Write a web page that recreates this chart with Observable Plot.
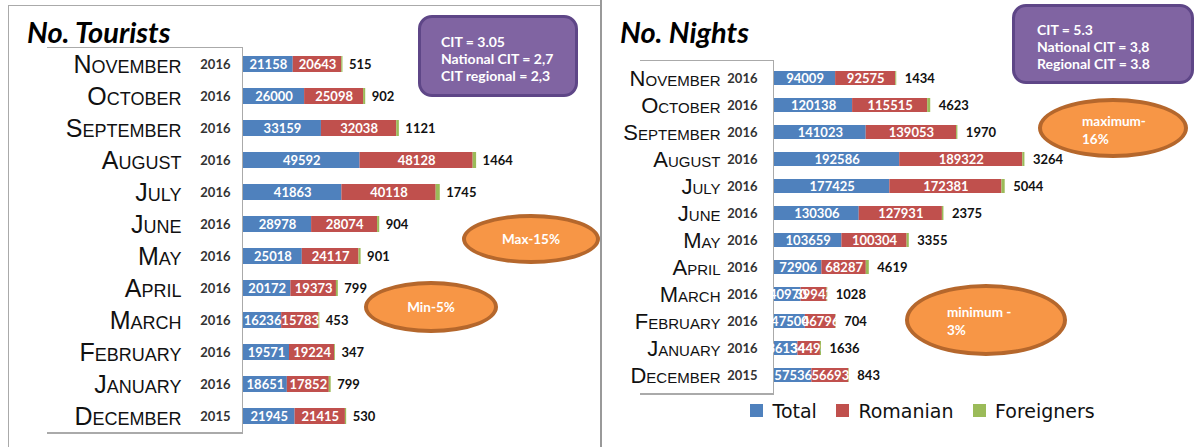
<!DOCTYPE html>
<html><head><meta charset="utf-8">
<script src="https://cdn.jsdelivr.net/npm/d3@7"></script>
<script src="https://cdn.jsdelivr.net/npm/@observablehq/plot@0.6"></script>
<style>
body{margin:0;background:#fff;}
#wrap{position:relative;width:1194px;height:447px;overflow:hidden;background:#fff;}
.abs{position:absolute;}
.panel{position:absolute;top:0;}
.title{position:absolute;font:italic 700 29px Lato,sans-serif;color:#000;white-space:nowrap;}
.box{position:absolute;background:#8064a2;border:3px solid #5e4687;border-radius:14px;color:#fff;font:700 14px Lato,sans-serif;box-sizing:border-box;line-height:17px;white-space:nowrap;}
.ell{position:absolute;background:#f79646;border:4px solid #b5672c;border-radius:50%;box-sizing:border-box;color:#fff;font:700 13.5px Lato,sans-serif;white-space:nowrap;}
.lblbox{position:absolute;border-top:1px solid #aaa;border-right:1px solid #aaa;border-bottom:2px solid #aaa;background:#fff;}
#legend{position:absolute;left:750px;top:394px;}
</style></head><body>
<div id="wrap">
  <div class="abs" style="left:8px;top:5px;width:0;height:442px;border-left:1px solid #aaa"></div>
  <div class="abs" style="left:8px;top:5px;width:593px;height:0;border-top:1px solid #aaa"></div>
  <div class="abs" style="left:600px;top:0;width:0;height:447px;border-left:2px solid #999"></div>
  <div class="lblbox" style="left:47px;top:47px;width:195px;height:384px"></div>
  <div class="lblbox" style="left:640px;top:60px;width:133px;height:332px"></div>
  <div id="left" class="panel" style="left:0"></div>
  <div id="right" class="panel" style="left:601px"></div>
  <div class="title" style="left:27px;top:14px">No. Tourists</div>
  <div class="title" style="left:620px;top:14px">No. Nights</div>
  <div class="box" style="left:418px;top:15px;width:160px;height:82px;padding:15px 0 0 20px">CIT = 3.05<br>National CIT = 2,7<br>CIT regional = 2,3</div>
  <div class="box" style="left:1012px;top:4px;width:182px;height:80px;padding:14px 0 0 22px">CIT = 5.3<br>National CIT = 3,8<br>Regional CIT = 3.8</div>
  <div class="ell" style="left:462px;top:214px;width:138px;height:50px;text-align:center;line-height:42px">Max-15%</div>
  <div class="ell" style="left:364px;top:281px;width:134px;height:52px;text-align:center;line-height:44px">Min-5%</div>
  <div class="ell" style="left:1038px;top:98px;width:150px;height:60px;padding:10px 0 0 40px;line-height:18px">maximum-<br>16%</div>
  <div class="ell" style="left:905px;top:284px;width:162px;height:72px;padding:15px 0 0 38px;line-height:18px">minimum -<br>3%</div>
  <div id="legend"></div>
</div>
<script>
const months = ["November","October","September","August","July","June","May","April","March","February","January","December"];
const years = ["2016","2016","2016","2016","2016","2016","2016","2016","2016","2016","2016","2015"];
const series = ["Total","Romanian","Foreigners"];
const colors = ["#4f81bd","#c0504d","#9bbb59"];

const touristsTotal = [21158,26000,33159,49592,41863,28978,25018,20172,16236,19571,18651,21945];
const touristsRomanian = [20643,25098,32038,48128,40118,28074,24117,19373,15783,19224,17852,21415];
const touristsForeign = [515,902,1121,1464,1745,904,901,799,453,347,799,530];

const nightsTotal = [94009,120138,141023,192586,177425,130306,103659,72906,40970,47500,36134,57536];
const nightsRomanian = [92575,115515,139053,189322,172381,127931,100304,68287,39942,46796,34498,56693];
const nightsForeign = [1434,4623,1970,3264,5044,2375,3355,4619,1028,704,1636,843];

function panel(o) {
  const rows = [];
  months.forEach((m, i) => {
    rows.push({month: m, series: "Total", value: o.total[i]});
    rows.push({month: m, series: "Romanian", value: o.romanian[i]});
    rows.push({month: m, series: "Foreigners", value: o.foreign[i]});
  });
  const svg = Plot.plot({
    width: o.width, height: 447,
    marginLeft: o.marginLeft, marginRight: 0, marginTop: o.marginTop, marginBottom: o.marginBottom,
    style: {background: "transparent", overflow: "visible"},
    x: {domain: [0, o.xMax], axis: null},
    y: {domain: months, axis: null, padding: 0.5},
    color: {domain: series, range: colors},
    marks: [
      Plot.barX(rows, Plot.stackX({x: "value", y: "month", fill: "series"})),
      Plot.text(rows, Plot.stackX({x: "value", y: "month", z: "series",
        text: d => d.series === "Foreigners" ? null : String(d.value),
        fill: "white", fontWeight: "bold", fontSize: o.labelSize, fontFamily: "Lato, sans-serif"})),
      Plot.text(rows, Plot.stackX2({x: "value", y: "month", z: "series",
        text: d => d.series === "Foreigners" ? String(d.value) : null,
        textAnchor: "start", dx: o.fDx, fill: "#111", fontWeight: "bold", fontSize: o.labelSize, fontFamily: "Lato, sans-serif"})),
      Plot.text(months, {y: d => d, text: d => d, frameAnchor: "left", textAnchor: "end", dx: o.monthDx,
        fontSize: o.monthSize, fontVariant: "small-caps", fill: "#111", fontFamily: "Liberation Sans, sans-serif", ariaLabel: "month-labels"}),
      Plot.text(years, {y: (d, i) => months[i], text: d => d, frameAnchor: "left", textAnchor: "end", dx: o.yearDx,
        fontSize: o.labelSize, fontWeight: "bold", fill: "#333", fontFamily: "Lato, sans-serif"})
    ]
  });
  d3.select(svg).selectAll("g[aria-label='month-labels'] text").style("letter-spacing", o.spacing);
  return svg;
}

document.getElementById("left").append(panel({
  total: touristsTotal, romanian: touristsRomanian, foreign: touristsForeign,
  width: 600, marginLeft: 243, marginTop: 39, marginBottom: 6, xMax: 151900,
  labelSize: 13, monthSize: 25, monthDx: -62, yearDx: -13, fDx: 6, spacing: "2px"
}));
document.getElementById("right").append(panel({
  total: nightsTotal, romanian: nightsRomanian, foreign: nightsForeign,
  width: 593, marginLeft: 173, marginTop: 54, marginBottom: 48, xMax: 646000,
  labelSize: 13, monthSize: 22, monthDx: -54, yearDx: -17, fDx: 8, spacing: "1.8px"
}));

document.getElementById("legend").append(Plot.legend({
  color: {domain: series, range: colors},
  legend: "swatches", swatchSize: 13,
  style: {fontSize: "19px", fontFamily: "DejaVu Sans, sans-serif", color: "#111", marginLeft: "0"}
}));
</script>
</body></html>
